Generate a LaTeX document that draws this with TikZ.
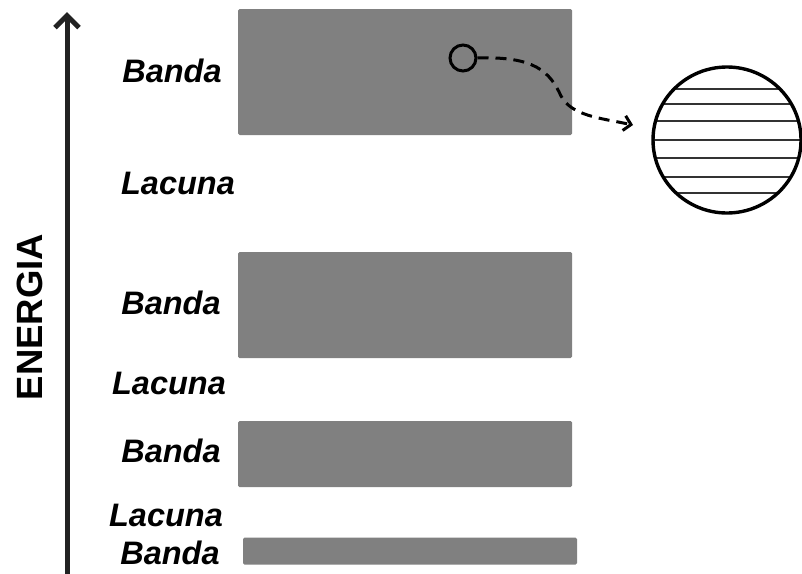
\documentclass[tikz,border=0pt]{standalone}
\usepackage{fontspec}
\setmainfont{Liberation Sans}
\usetikzlibrary{arrows.meta}
\definecolor{bandgray}{HTML}{808080}
\definecolor{axisink}{HTML}{222222}
\tikzset{
  band/.style={fill=bandgray, draw=none, rounded corners=1.5pt, inner sep=0pt},
  lbl/.style={font=\fontsize{32.5}{36}\selectfont\bfseries\itshape, inner sep=0pt, anchor=center},
  axisline/.style={draw=axisink, line width=5pt, -{Straight Barb[length=12pt,width=24pt,line width=5pt]}},
  jump/.style={draw=black, line width=3pt, dash pattern=on 11pt off 7pt,
               -{Straight Barb[length=7pt,width=15pt,line width=3pt]}},
  level/.style={draw=black!80, line width=1.6pt}
}
\begin{document}
\begin{tikzpicture}[x=1pt,y=-1pt]
\useasboundingbox (0,0) rectangle (802,573);

% energy axis
\coordinate (axbot) at (67,575);
\coordinate (axtop) at (67,12);
\draw[axisline] (axbot) -- (axtop);
\node[font=\fontsize{36.5}{40}\selectfont\bfseries, rotate=90, inner sep=0pt] (energy) at (30,317) {ENERGIA};

% allowed bands
\node[band, minimum width=334pt, minimum height=126pt] (b1) at (405,72) {};
\node[band, minimum width=334pt, minimum height=106pt] (b2) at (405,305) {};
\node[band, minimum width=334pt, minimum height=66pt]  (b3) at (405,454) {};
\node[band, minimum width=334pt, minimum height=27pt]  (b4) at (410,551) {};

% labels
\node[lbl] (t1) at (172,71)  {Banda};
\node[lbl] (t2) at (178,183) {Lacuna};
\node[lbl] (t3) at (171,303) {Banda};
\node[lbl] (t4) at (169,383) {Lacuna};
\node[lbl] (t5) at (171,451) {Banda};
\node[lbl] (t6) at (166,515) {Lacuna};
\node[lbl] (t7) at (170,553) {Banda};

% magnified view of one band: discrete levels
\node[circle, draw=black, line width=3pt, minimum size=26pt, inner sep=0pt] (probe) at (463,58) {};
\coordinate (zoomc) at (727,140);
\begin{scope}
  \clip (zoomc) ellipse [x radius=74, y radius=73];
  \foreach \yy in {89,104,121,140,158,177,193}
    \draw[level] (640,\yy) -- (810,\yy);
\end{scope}
\draw[line width=3.4pt] (zoomc) ellipse [x radius=74, y radius=73];

% dashed connector
\coordinate (tip) at (633,125);
\draw[jump] (probe.east) .. controls (535,56) and (550,72) .. (561,96)
            .. controls (572,116) and (600,118) .. (tip);
\end{tikzpicture}
\end{document}
